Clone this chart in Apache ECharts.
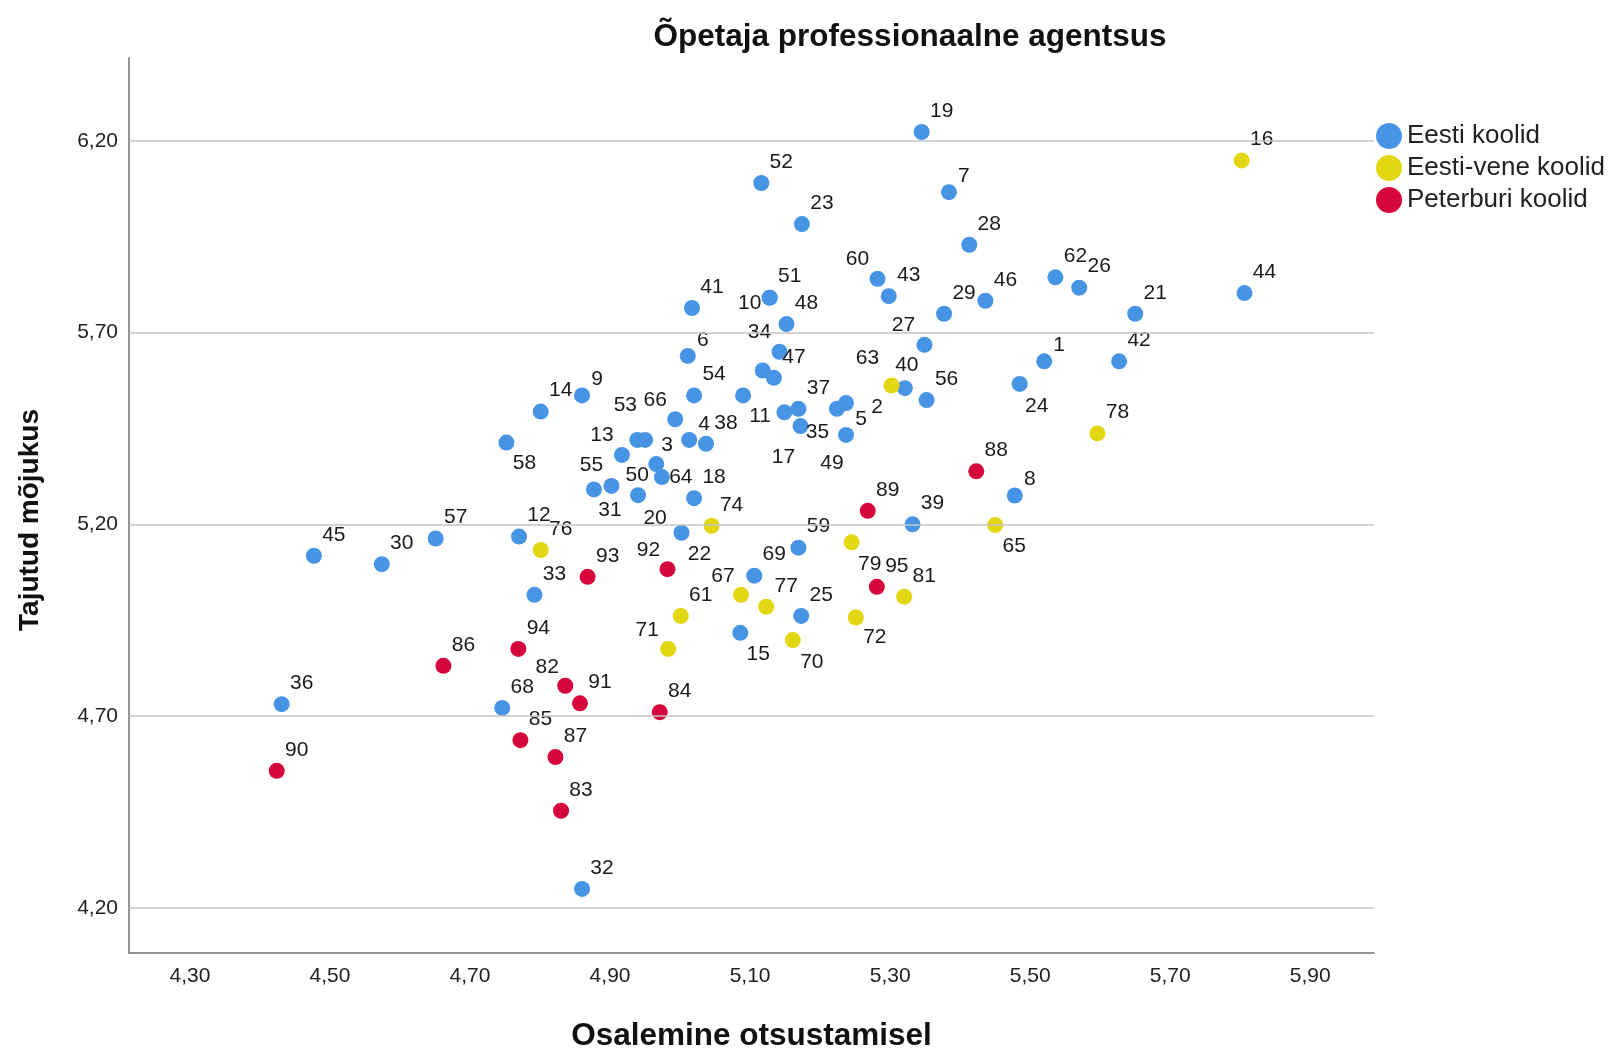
<!DOCTYPE html>
<html>
<head>
<meta charset="utf-8">
<script src="https://cdn.jsdelivr.net/npm/echarts@6/dist/echarts.min.js"></script>
<style>
  html, body { margin: 0; padding: 0; background: #fff; }
  #chart { width: 1611px; height: 1052px; }
</style>
</head>
<body>
<div id="chart"></div>
<script>
// grupid (legend)
const groupNames = ['Eesti koolid', 'Eesti-vene koolid', 'Peterburi koolid'];

// [osalemine otsustamisel, tajutud mõjukus, kooli nr]
const eestiKoolid = [
  [5.520, 5.625, 1], [5.237, 5.516, 2], [4.950, 5.420, 3], [5.013, 5.420, 4],
  [5.237, 5.433, 5], [5.011, 5.639, 6], [5.384, 6.066, 7], [5.478, 5.275, 8],
  [4.860, 5.536, 9], [5.128, 5.791, 10], [5.090, 5.536, 11], [4.770, 5.168, 12],
  [4.917, 5.381, 13], [4.801, 5.494, 14], [5.086, 4.917, 15], [5.149, 5.492, 17],
  [5.020, 5.268, 18], [5.345, 6.223, 19], [4.940, 5.276, 20], [5.650, 5.749, 21],
  [5.002, 5.178, 22], [5.174, 5.983, 23], [5.485, 5.566, 24], [5.173, 4.961, 25],
  [5.570, 5.817, 26], [5.349, 5.668, 27], [5.413, 5.929, 28], [5.377, 5.749, 29],
  [4.574, 5.096, 30], [4.877, 5.291, 31], [4.860, 4.249, 32], [4.792, 5.016, 33],
  [5.142, 5.650, 34], [5.172, 5.456, 35], [4.431, 4.731, 36], [5.169, 5.501, 37],
  [5.037, 5.410, 38], [5.332, 5.200, 39], [5.321, 5.555, 40], [5.017, 5.764, 41],
  [5.627, 5.625, 42], [5.298, 5.795, 43], [5.806, 5.803, 44], [4.477, 5.118, 45],
  [5.436, 5.783, 46], [5.134, 5.582, 47], [5.152, 5.722, 48], [5.224, 5.501, 49],
  [4.966, 5.357, 50], [5.128, 5.791, 51], [5.116, 6.090, 52], [4.939, 5.420, 53],
  [5.020, 5.536, 54], [4.902, 5.300, 55], [5.352, 5.524, 56], [4.651, 5.163, 57],
  [4.752, 5.413, 58], [5.169, 5.139, 59], [5.282, 5.840, 60], [5.536, 5.844, 62],
  [4.974, 5.323, 64], [4.993, 5.474, 66], [4.746, 4.721, 68], [5.106, 5.066, 69],
  [5.118, 5.601, null]
];
const eestiVeneKoolid = [
  [5.802, 6.149, 16], [5.001, 4.961, 61], [5.302, 5.562, 63], [5.450, 5.198, 65],
  [5.087, 5.016, 67], [5.161, 4.898, 70], [4.983, 4.875, 71], [5.251, 4.957, 72],
  [5.045, 5.196, 74], [4.801, 5.133, 76], [5.123, 4.985, 77], [5.596, 5.437, 78],
  [5.245, 5.153, 79], [5.320, 5.011, 81]
];
const peterburiKoolid = [
  [4.836, 4.779, 82], [4.830, 4.453, 83], [4.971, 4.710, 84], [4.772, 4.637, 85],
  [4.662, 4.831, 86], [4.822, 4.593, 87], [5.423, 5.338, 88], [5.268, 5.235, 89],
  [4.424, 4.557, 90], [4.857, 4.733, 91], [4.982, 5.083, 92], [4.868, 5.063, 93],
  [4.769, 4.875, 94], [5.281, 5.037, 95]
];

// telje jaotised
const xTicks = [4.3, 4.5, 4.7, 4.9, 5.1, 5.3, 5.5, 5.7, 5.9];
const yTicks = [4.2, 4.7, 5.2, 5.7, 6.2];

// siltide nihked punkti suhtes (px), kui silt pole üleval paremal
const labelShift = {
  2: [31, 4], 3: [22, 5], 10: [-20, 6], 11: [17, 21], 13: [-20, -20],
  15: [18, 21], 17: [-1, 45], 20: [17, 23], 22: [18, 21], 24: [17, 22],
  27: [-21, -20], 31: [16, 21], 34: [-20, -20], 35: [17, 6], 40: [2, -23],
  49: [-5, 54], 50: [-19, 11], 53: [-12, -35], 55: [-20, -21], 58: [18, 21],
  60: [-20, -20], 63: [-24, -27], 64: [19, 0], 65: [19, 21], 66: [-20, -19],
  67: [-18, -19], 70: [19, 22], 71: [-21, -19], 72: [19, 20], 79: [18, 22],
  82: [-18, -19], 92: [-19, -19]
};

const colors = ['#4794e4', '#e2d712', '#d4063c'];
const font = '"Liberation Sans", Arial, sans-serif';
const groups = [eestiKoolid, eestiVeneKoolid, peterburiKoolid];

const fmt = v => v.toFixed(2).replace('.', ',');

function toPoints(list) {
  return list.map(p => {
    const txt = p[2] == null ? '' : String(p[2]);
    const off = labelShift[p[2]] || (txt.length > 1 ? [20, -21] : [15, -16]);
    return { value: p, label: { offset: off } };
  });
}

const chart = echarts.init(document.getElementById('chart'));

let series = groups.map((list, i) => ({
  name: groupNames[i],
  type: 'scatter',
  symbol: 'circle',
  symbolSize: 16,
  z: 3,
  itemStyle: { color: colors[i], opacity: 1 },
  label: {
    show: true,
    position: 'inside',
    align: 'center',
    verticalAlign: 'middle',
    formatter: p => (p.value[2] == null ? '' : String(p.value[2])),
    color: '#1a1a1a',
    fontSize: 21,
    fontFamily: font,
    textBorderWidth: 0
  },
  emphasis: { disabled: true },
  data: toPoints(list)
}));

// horisontaalsed abijooned
series.unshift({
  type: 'scatter',
  data: [],
  z: 1,
  silent: true,
  markLine: {
    silent: true,
    symbol: 'none',
    animation: false,
    label: { show: false },
    lineStyle: { color: '#c4c4c4', width: 1.5, type: 'solid' },
    data: yTicks.map(v => ({ yAxis: v }))
  }
});

let option = {
  animation: false,
  backgroundColor: '#fff',
  title: {
    text: 'Õpetaja professionaalne agentsus',
    left: 905,
    top: 16,
    textAlign: 'center',
    textStyle: { fontSize: 31.5, fontWeight: 'bold', color: '#111', fontFamily: font }
  },
  legend: {
    orient: 'vertical',
    left: 1376,
    top: 123,
    padding: 0,
    itemWidth: 26,
    itemHeight: 26,
    itemGap: 6,
    icon: 'circle',
    selectedMode: false,
    data: groupNames,
    textStyle: { fontSize: 26, color: '#222', fontFamily: font }
  },
  grid: { left: 129, right: 237, top: 58, bottom: 99, outerBoundsMode: 'none' },
  xAxis: {
    type: 'value',
    min: 4.213,
    max: 5.991,
    name: 'Osalemine otsustamisel',
    nameLocation: 'middle',
    nameGap: 67,
    nameTextStyle: { fontSize: 31.5, fontWeight: 'bold', color: '#111', fontFamily: font },
    axisLine: { show: true, lineStyle: { color: '#707070', width: 1.5 } },
    axisTick: { show: false },
    splitLine: { show: false },
    axisLabel: {
      customValues: xTicks,
      formatter: fmt,
      fontSize: 21,
      margin: 13,
      color: '#222',
      fontFamily: font
    }
  },
  yAxis: {
    type: 'value',
    min: 4.082,
    max: 6.416,
    axisLine: { show: true, lineStyle: { color: '#707070', width: 1.5 } },
    axisTick: { show: false },
    splitLine: { show: false },
    axisLabel: {
      customValues: yTicks,
      formatter: fmt,
      fontSize: 21,
      margin: 11,
      color: '#222',
      fontFamily: font
    }
  },
  graphic: [{
    type: 'text',
    x: 30,
    y: 520,
    rotation: Math.PI / 2,
    style: {
      text: 'Tajutud mõjukus',
      font: 'bold 28px "Liberation Sans", Arial, sans-serif',
      fill: '#111',
      align: 'center',
      verticalAlign: 'middle',
      textAlign: 'center',
      textVerticalAlign: 'middle'
    }
  }],
  series: series
};

chart.setOption(option);
</script>
</body>
</html>
